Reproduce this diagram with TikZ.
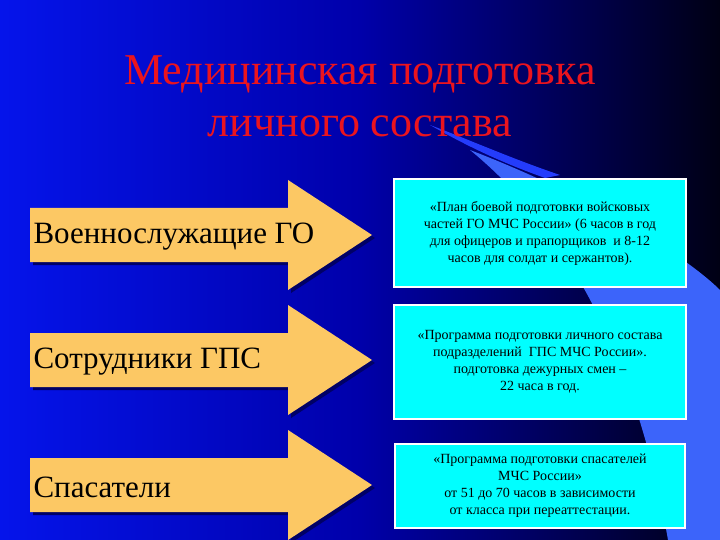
\documentclass[tikz,border=0pt]{standalone}
\usepackage{fontspec}
\setmainfont{Liberation Serif}
\usetikzlibrary{calc}
\definecolor{arrowfill}{RGB}{252,200,100}
\definecolor{boxfill}{RGB}{0,255,255}
\definecolor{swoosh}{RGB}{60,100,250}
\definecolor{titlered}{RGB}{235,20,30}
\tikzset{
  bigarrow/.style={fill=arrowfill,draw=none},
  arrowshadow/.style={fill=black!60!blue,draw=none},
  infobox/.style={fill=boxfill,draw=white,line width=1.2pt},
  boxtext/.style={font=\fontsize{14}{17}\selectfont,align=center,text=black},
  arrowlabel/.style={font=\fontsize{31}{34}\selectfont,anchor=west,text=black},
}
\begin{document}
\begin{tikzpicture}[x=1pt,y=-1pt]
\shade[left color={rgb,255:red,5;green,20;blue,235},right color={rgb,255:red,0;green,0;blue,20},middle color={rgb,255:red,0;green,0;blue,170}] (0,0) rectangle (720,540);
\useasboundingbox (0,0) rectangle (720,540);
% swoosh
\fill[swoosh] (470,150) .. controls (600,200) and (690,260) .. (720,290) -- (720,540) -- (668,540) .. controls (640,380) and (580,240) .. (470,150) -- cycle;
\fill[swoosh!60!blue] (430,125) .. controls (470,140) and (510,158) .. (560,175) -- (545,178) .. controls (500,162) and (465,145) .. (430,125) -- cycle;
% title
\node[font=\fontsize{44}{52}\selectfont,text=titlered,align=center] (title) at (360,96) {Медицинская подготовка\\личного состава};
% arrows
\foreach \n/\y in {a/235,b/360,c/485}{
  \fill[arrowshadow] (33,\y-24) -- ++(258,0) -- ++(0,-28) -- (375,\y+3) -- (291,\y+58) -- ++(0,-28) -- (33,\y+30) -- cycle;
  \fill[bigarrow] (30,\y-27) -- (288,\y-27) -- (288,\y-55) -- (372,\y) -- (288,\y+55) -- (288,\y+27) -- (30,\y+27) -- cycle;
  \coordinate (\n) at (30,\y);
}
\node[arrowlabel] (la) at ($(a)+(0,2)$) {Военнослужащие ГО};
\node[arrowlabel] (lb) at ($(b)+(0,2)$) {Сотрудники ГПС};
\node[arrowlabel] (lc) at ($(c)+(0,2)$) {Спасатели};
% boxes
\node[infobox,minimum width=292pt,minimum height=108pt,boxtext] (b1) at (540,233) {«План боевой подготовки войсковых\\частей ГО МЧС России» (6 часов в год\\для офицеров и прапорщиков\ \ и 8-12\\часов для солдат и сержантов).};
\node[infobox,minimum width=292pt,minimum height=114pt,boxtext] (b2) at (540,362) {«Программа подготовки личного состава\\подразделений\ \ ГПС МЧС России».\\подготовка дежурных смен –\\22 часа в год.};
\node[infobox,minimum width=290pt,minimum height=84pt,boxtext] (b3) at (540,486) {«Программа подготовки спасателей\\МЧС России»\\от 51 до 70 часов в зависимости\\от класса при переаттестации.};
\end{tikzpicture}
\end{document}
